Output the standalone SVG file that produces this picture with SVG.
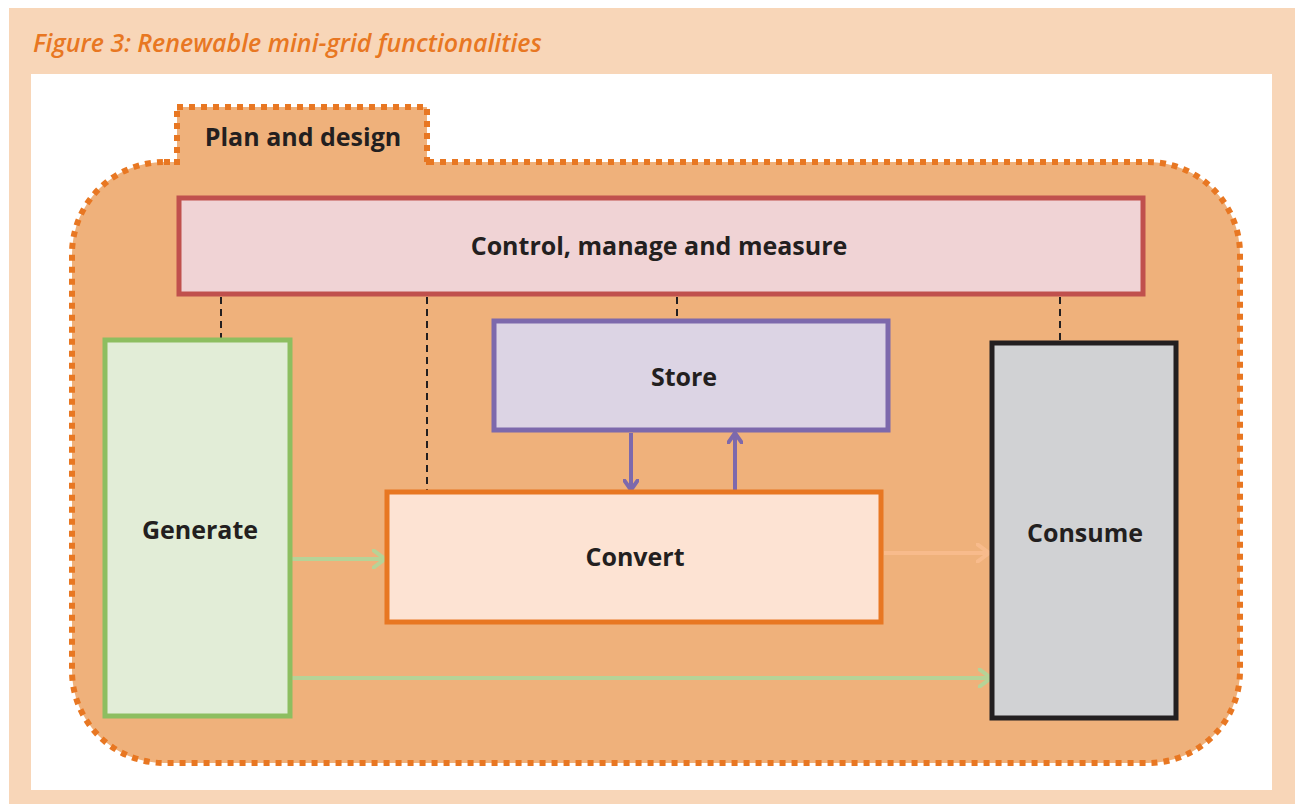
<svg xmlns="http://www.w3.org/2000/svg" width="1295" height="804" viewBox="0 0 1295 804">
<defs>
<style>
.lbl{font-family:"Open Sans","Liberation Sans",sans-serif;font-weight:bold;font-size:25px;fill:#231F20;text-anchor:middle;dominant-baseline:central}
.dot{fill:#EFB17B;stroke:#E87722;stroke-width:6;stroke-dasharray:6 6}
.dash{stroke:#231F20;stroke-width:2;stroke-dasharray:7 5;fill:none}
</style>
<marker id="ap" viewBox="0 0 12 16" refX="11" refY="8" markerWidth="12" markerHeight="16" markerUnits="userSpaceOnUse" orient="auto">
<path d="M1,1 L11,8 L1,15" fill="none" stroke="#7D69AC" stroke-width="4" stroke-linecap="round"/>
</marker>
<marker id="ag" viewBox="0 0 14 20" refX="13" refY="10" markerWidth="14" markerHeight="20" markerUnits="userSpaceOnUse" orient="auto">
<path d="M1,1 L13,10 L1,19" fill="none" stroke="#B6D397" stroke-width="4" stroke-linecap="round"/>
</marker>
<marker id="ao" viewBox="0 0 14 20" refX="13" refY="10" markerWidth="14" markerHeight="20" markerUnits="userSpaceOnUse" orient="auto">
<path d="M1,1 L13,10 L1,19" fill="none" stroke="#F8BB8C" stroke-width="4" stroke-linecap="round"/>
</marker>
</defs>
<rect x="9" y="8" width="1286" height="796" fill="#F8D6B8"/>
<rect x="31" y="74" width="1241" height="716" fill="#FFFFFF"/>
<text x="33" y="52" font-family="Open Sans, Liberation Sans, sans-serif" font-style="italic" font-weight="600" font-size="25" fill="#E87722">Figure 3: Renewable mini-grid functionalities</text>
<g id="plan">
<rect class="dot" x="72" y="162" width="1168" height="601" rx="92" ry="92"/>
<rect class="dot" x="177" y="107" width="250" height="55"/>
<rect x="180" y="110" width="244" height="55" fill="#EFB17B"/>
<text class="lbl" x="303" y="136">Plan and design</text>
</g>
<g id="connectors">
<line class="dash" x1="221" y1="297" x2="221" y2="339"/>
<line class="dash" x1="427" y1="297" x2="427" y2="490"/>
<line class="dash" x1="677" y1="297" x2="677" y2="319"/>
<line class="dash" x1="1060" y1="297" x2="1060" y2="341"/>
<line x1="631" y1="433" x2="631" y2="490" stroke="#7D69AC" stroke-width="4" marker-end="url(#ap)"/>
<line x1="735" y1="490" x2="735" y2="433" stroke="#7D69AC" stroke-width="4" marker-end="url(#ap)"/>
<line x1="291" y1="559" x2="385" y2="559" stroke="#B6D397" stroke-width="4" marker-end="url(#ag)"/>
<line x1="884" y1="553" x2="989" y2="553" stroke="#F8BB8C" stroke-width="4" marker-end="url(#ao)"/>
<line x1="291" y1="678" x2="991" y2="678" stroke="#B6D397" stroke-width="4" marker-end="url(#ag)"/>
</g>
<g id="control">
<rect x="179" y="198" width="964" height="96" fill="#F0D3D5" stroke="#C0504D" stroke-width="5"/>
<text class="lbl" x="659" y="245">Control, manage and measure</text>
</g>
<g id="generate">
<rect x="105" y="340" width="185" height="376" fill="#E2EDD7" stroke="#8DBE60" stroke-width="5"/>
<text class="lbl" x="200" y="529">Generate</text>
</g>
<g id="store">
<rect x="494" y="321" width="394" height="109" fill="#DCD4E4" stroke="#7D69AC" stroke-width="5"/>
<text class="lbl" x="684" y="376">Store</text>
</g>
<g id="convert">
<rect x="387" y="492" width="494" height="130" fill="#FDE3D3" stroke="#E87722" stroke-width="5"/>
<text class="lbl" x="635" y="556">Convert</text>
</g>
<g id="consume">
<rect x="992" y="343" width="184" height="375" fill="#D1D2D4" stroke="#231F20" stroke-width="5"/>
<text class="lbl" x="1085" y="532">Consume</text>
</g>
</svg>
